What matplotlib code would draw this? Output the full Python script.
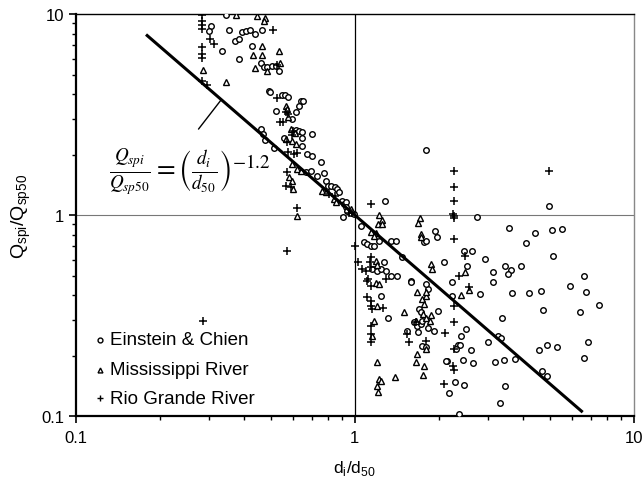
import numpy as np
import matplotlib
matplotlib.use("Agg")
import matplotlib.pyplot as plt

plt.rcParams['font.family'] = ['Liberation Sans', 'DejaVu Sans']

# Einstein & Chien (circles)
ec_x = [0.346, 0.306, 0.301, 0.355, 0.395, 0.408, 0.422, 0.440, 0.466, 0.373,
        0.385, 0.335, 0.429, 0.385, 0.462, 0.473, 0.485, 0.505, 0.522, 0.535,
        0.493, 0.497, 0.548, 0.562, 0.576, 0.641, 0.652, 0.631, 0.522, 0.615,
        0.596, 0.615, 0.631, 0.645, 0.702, 0.557, 0.647, 0.647, 0.462, 0.469,
        0.477, 0.514, 0.674, 0.702, 0.756, 0.668, 0.697, 0.731, 0.774, 0.787,
        0.801, 0.821, 0.849, 0.862, 0.877, 0.899, 0.913, 0.929, 0.929, 0.936,
        0.968, 0.992, 0.906, 1.28, 1.05, 1.218, 1.345, 1.40, 1.077, 1.104,
        1.141, 1.169, 1.15, 1.198, 1.238, 1.27, 1.291, 1.345, 1.413, 1.238,
        1.472, 1.585, 1.59, 1.763, 1.794, 1.945, 1.977, 1.837, 1.794, 1.794,
        4.97, 2.748, 3.58, 4.43, 5.09, 5.53, 4.11, 2.47, 2.64, 5.14,
        2.938, 2.096, 2.533, 3.46, 3.64, 3.55, 3.95, 3.135, 3.135, 2.239,
        6.63, 5.91, 6.74, 7.5, 6.41, 4.73, 4.66, 4.22, 3.66, 2.818,
        2.239, 2.512, 2.41, 2.351, 2.39, 2.313, 2.618, 2.148, 2.45, 2.66,
        2.295, 2.47, 2.184, 2.371, 3.38, 3.01, 3.27, 3.35, 3.19, 3.43,
        3.76, 3.46, 3.32, 4.58, 4.89, 5.31, 6.85, 6.63, 4.69, 4.89,
        1.312, 1.692, 1.72, 1.625, 1.665, 1.72, 1.734, 1.995, 1.837, 1.915,
        1.533, 1.679, 1.734, 1.794, 2.13]
ec_y = [9.9, 8.71, 8.23, 8.32, 8.13, 8.23, 8.32, 7.95, 8.32, 7.34,
        7.51, 6.55, 6.93, 5.97, 5.70, 5.45, 5.45, 5.51, 5.51, 5.21,
        4.14, 4.09, 3.95, 3.95, 3.86, 3.69, 3.69, 3.49, 3.29, 3.25,
        3.0, 2.65, 2.62, 2.60, 2.53, 2.42, 2.42, 2.20, 2.68, 2.53,
        2.36, 2.15, 2.01, 1.97, 1.84, 1.64, 1.66, 1.56, 1.62, 1.48,
        1.39, 1.39, 1.38, 1.35, 1.30, 1.17, 1.13, 1.16, 1.10, 1.05,
        1.03, 1.01, 0.977, 1.17, 0.882, 0.743, 0.743, 0.743, 0.734, 0.718,
        0.701, 0.701, 0.539, 0.526, 0.539, 0.584, 0.526, 0.497, 0.497, 0.395,
        0.618, 0.469, 0.464, 0.734, 0.743, 0.832, 0.778, 0.428, 0.454, 2.10,
        1.11, 0.977, 0.862, 0.813, 0.842, 0.852, 0.726, 0.662, 0.662, 0.625,
        0.604, 0.584, 0.557, 0.557, 0.533, 0.509, 0.557, 0.520, 0.464, 0.464,
        0.497, 0.444, 0.414, 0.357, 0.329, 0.337, 0.419, 0.409, 0.409, 0.405,
        0.395, 0.271, 0.250, 0.226, 0.226, 0.216, 0.213, 0.188, 0.190, 0.184,
        0.148, 0.143, 0.130, 0.102, 0.307, 0.233, 0.250, 0.244, 0.186, 0.190,
        0.192, 0.141, 0.116, 0.213, 0.226, 0.220, 0.233, 0.194, 0.168, 0.158,
        0.307, 0.341, 0.329, 0.294, 0.281, 0.287, 0.297, 0.333, 0.274, 0.265,
        0.265, 0.262, 0.223, 0.220, 0.188]

# Mississippi River (triangles)
ms_x = [0.376, 0.447, 0.477, 0.473, 0.466, 0.535, 0.432, 0.466, 0.440, 0.485,
        0.540, 0.286, 0.346, 0.567, 0.572, 0.576, 0.591, 0.610, 0.567, 0.596,
        0.615, 0.596, 0.621, 0.641, 0.581, 0.596, 0.601, 0.762, 0.787, 0.841,
        0.855, 0.968, 0.621, 1.218, 1.249, 1.208, 1.249, 1.706, 1.679, 1.72,
        1.72, 1.141, 1.188, 1.169, 1.188, 1.198, 1.188, 1.218, 1.868, 1.884,
        1.665, 1.734, 1.794, 1.807, 1.763, 2.49, 2.41, 2.575, 1.496, 1.749,
        1.868, 1.807, 1.853, 1.651, 1.794, 1.665, 1.651, 1.763, 1.749, 1.39,
        1.169, 1.15, 1.198, 1.218, 1.238, 1.198, 1.208, 1.198]
ms_y = [9.9, 9.77, 9.55, 9.23, 6.93, 6.55, 6.25, 6.25, 5.39, 5.21,
        5.70, 5.27, 4.59, 3.49, 3.37, 3.07, 2.68, 2.56, 2.39, 2.33,
        2.25, 1.79, 1.69, 1.66, 1.55, 1.48, 1.35, 1.32, 1.30, 1.20,
        1.16, 1.07, 0.989, 1.0, 0.944, 0.902, 0.902, 0.966, 0.913, 0.804,
        0.778, 0.823, 0.813, 0.787, 0.590, 0.564, 0.459, 0.454, 0.570, 0.539,
        0.414, 0.382, 0.395, 0.414, 0.361, 0.520, 0.400, 0.424, 0.329, 0.322,
        0.318, 0.307, 0.297, 0.297, 0.216, 0.203, 0.186, 0.177, 0.160, 0.156,
        0.297, 0.250, 0.186, 0.153, 0.149, 0.141, 0.132, 0.353]

# Rio Grande River (plus)
rg_x = [0.284, 0.284, 0.284, 0.284, 0.510, 0.303, 0.313, 0.284, 0.284, 0.284,
        0.526, 0.284, 0.294, 0.526, 0.567, 0.576, 0.540, 0.553, 0.601, 0.596,
        0.572, 0.576, 0.605, 0.621, 0.572, 0.567, 0.591, 0.807, 0.849, 0.952,
        0.976, 0.621, 0.572, 0.286, 1.141, 1.0, 1.025, 1.059, 1.094, 1.141,
        1.131, 1.141, 1.291, 1.112, 1.141, 1.104, 1.104, 1.141, 2.276, 2.276,
        2.276, 2.258, 2.276, 2.276, 4.97, 2.276, 2.49, 2.371, 2.575, 2.276,
        2.276, 2.276, 2.258, 2.276, 1.141, 1.15, 1.259, 1.141, 1.141, 1.141,
        1.651, 1.533, 1.559, 1.807, 2.113, 2.096]
rg_y = [9.9, 9.23, 8.81, 8.42, 8.32, 7.51, 7.09, 6.85, 6.32, 6.04,
        5.57, 4.64, 4.43, 3.82, 3.25, 3.18, 2.90, 2.90, 2.62, 2.50,
        2.31, 2.06, 2.01, 2.03, 1.64, 1.39, 1.38, 1.27, 1.24, 1.03,
        1.02, 1.08, 0.662, 0.297, 1.13, 0.701, 0.584, 0.539, 0.526, 0.618,
        0.584, 0.551, 0.481, 0.481, 0.444, 0.469, 0.391, 0.373, 1.66, 1.38,
        1.17, 1.01, 0.989, 0.966, 1.66, 0.760, 0.625, 0.497, 0.438, 0.353,
        0.294, 0.216, 0.177, 0.169, 0.353, 0.341, 0.345, 0.281, 0.256, 0.233,
        0.294, 0.256, 0.233, 0.236, 0.259, 0.144]

# power-law fit Qspi/Qsp50 = (di/d50)^-1.2
fit_exp = -1.2
fit_range = [0.18, 6.5]

fig = plt.figure(figsize=(6.44, 4.89), dpi=100)
ax = fig.add_axes([0.118, 0.147, 0.866, 0.822])
ax.set_xscale('log')
ax.set_yscale('log')
ax.set_xlim(0.1, 10)
ax.set_ylim(0.1, 10)

ax.axhline(1, color='#777777', lw=0.8, zorder=1)
ax.axvline(1, color='black', lw=0.9, zorder=1)

ax.plot(ec_x, ec_y, 'o', ms=4.0, mfc='white', mec='black', mew=1.0,
        linestyle='none', zorder=3)
ax.plot(ms_x, ms_y, '^', ms=4.6, mfc='white', mec='black', mew=1.0,
        linestyle='none', zorder=3)
ax.plot(rg_x, rg_y, '+', ms=6, mec='black', mew=1.1,
        linestyle='none', zorder=3)

fx = np.array(fit_range)
ax.plot(fx, fx ** fit_exp, color='black', lw=2.2, zorder=4)

# equation + leader to the line
ax.text(0.255, 1.66,
        r'$\frac{Q_{spi}}{Q_{sp50}} = \left(\frac{d_i}{d_{50}}\right)^{-1.2}$',
        fontsize=19.5, math_fontfamily='stix', ha='center', va='center')
lx = 0.332
ax.annotate('', xy=(lx, lx ** fit_exp), xytext=(0.275, 2.68),
            arrowprops=dict(arrowstyle='-', color='black', lw=1.0,
                            shrinkA=0, shrinkB=0))

# legend drawn as marker + text
leg_labels = ['Einstein & Chien', 'Mississippi River', 'Rio Grande River']
leg_markers = ['o', '^', '+']
leg_y = [0.24, 0.17, 0.123]
for lab, mk, yy in zip(leg_labels, leg_markers, leg_y):
    if mk == '+':
        ax.plot([0.122], [yy], mk, ms=5, mec='black', mew=1.0)
    else:
        ax.plot([0.122], [yy], mk, ms=3.5, mfc='white', mec='black', mew=1.0)
    ax.text(0.132, yy, lab, fontsize=13.5, va='center', ha='left')

for s in ['left', 'bottom']:
    ax.spines[s].set_linewidth(1.6)
ax.spines['top'].set_linewidth(1.0)
ax.spines['right'].set_color('#888888')
ax.spines['right'].set_linewidth(1.0)

ax.set_xticks([0.1, 1, 10])
ax.set_xticklabels(['0.1', '1', '10'])
ax.set_yticks([0.1, 1, 10])
ax.set_yticklabels(['0.1', '1', '10'])
ax.tick_params(which='major', direction='out', length=5, width=1.2,
               labelsize=12, top=False, right=False)
ax.tick_params(which='minor', direction='out', length=3, width=1.0,
               top=False, right=False, labelleft=False, labelbottom=False)
ax.tick_params(axis='x', which='major', pad=5)

ax.set_xlabel(r'd$_\mathregular{i}$/d$_\mathregular{50}$', fontsize=12.5, labelpad=9)
ax.set_ylabel(r'Q$_\mathregular{spi}$/Q$_\mathregular{sp50}$', fontsize=14, labelpad=6)

fig.savefig('out.png', dpi=100)
